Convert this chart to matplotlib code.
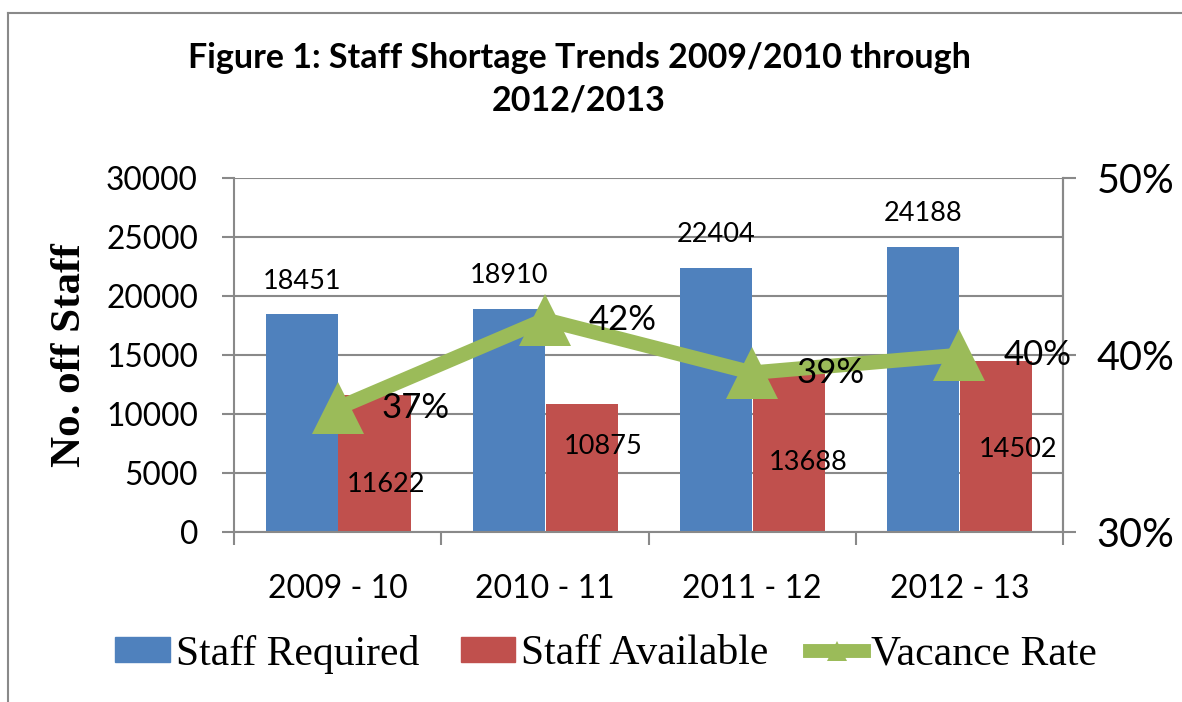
import matplotlib
matplotlib.use('Agg')
import matplotlib.pyplot as plt
from matplotlib.lines import Line2D
import matplotlib.patches as mpatches
import numpy as np

years     = ['2009 - 10', '2010 - 11', '2011 - 12', '2012 - 13']
required  = [18451, 18910, 22404, 24188]
available = [11622, 10875, 13688, 14502]
vac_rate  = [0.37, 0.42, 0.39, 0.40]

# where the red labels sit below the bar top (pixels), as in the source
red_dx = [12, 22, 20, 23]
red_dy = [-90, -43, -92, -89]

BLUE  = '#4F81BD'
RED   = '#C0504D'
GREEN = '#9BBB59'
GRID  = '#898989'

SANS  = ['Lato', 'DejaVu Sans']
SERIF = ['Liberation Serif', 'DejaVu Serif']

fig = plt.figure(figsize=(11.82, 7.02), dpi=100)
W, H = 1182, 702

ax = fig.add_axes([234 / W, 1 - 532 / H, (1063 - 234) / W, (532 - 178) / H])
ax2 = ax.twinx()

x = np.arange(len(years))
bw = 0.348
ax.bar(x - bw / 2, required, bw, color=BLUE, zorder=2, edgecolor='none')
ax.bar(x + bw / 2 + 0.004, available, bw, color=RED, zorder=2, edgecolor='none')

ax.set_ylim(0, 30000)
ax.set_xlim(-0.5, 3.5)
ax.set_yticks(range(0, 30001, 5000))
ax.yaxis.grid(True, color=GRID, lw=1.5, zorder=0)
ax.set_axisbelow(True)

# category boundary ticks, labels at centres
ax.set_xticks(np.arange(-0.5, 4, 1))
ax.set_xticklabels([])
ax.set_xticks(x, minor=True)
ax.set_xticklabels(years, minor=True, fontsize=23, family=SANS)
ax.tick_params(axis='x', which='minor', length=0, pad=30)
ax.tick_params(axis='x', which='major', length=9, width=1.5, color=GRID, direction='out')
ax.tick_params(axis='y', length=9, width=1.5, color=GRID, direction='out', pad=17, labelsize=22.8)
for lab in ax.get_yticklabels():
    lab.set_family(SANS)

for s in ['left', 'bottom', 'right']:
    ax.spines[s].set_color(GRID)
    ax.spines[s].set_linewidth(1.5)
ax.spines['top'].set_visible(False)
for s in ['left', 'top', 'bottom']:
    ax2.spines[s].set_visible(False)
ax2.spines['right'].set_color(GRID)
ax2.spines['right'].set_linewidth(1.5)

ax.set_ylabel('No. off Staff', fontsize=31, family=SERIF, fontweight='bold', labelpad=12)

# vacancy line on the right axis
ax2.plot(x, vac_rate, color=GREEN, lw=10.5, marker='^', ms=37, mec=GREEN, mew=0, zorder=3)
ax2.set_ylim(0.30, 0.50)
ax2.set_yticks([0.30, 0.40, 0.50])
ax2.set_yticklabels(['30%', '40%', '50%'], family=SANS)
ax2.tick_params(axis='y', length=9, width=1.5, color=GRID, direction='out', pad=15, labelsize=28.5)

# data labels
for i in range(len(years)):
    ax.annotate(str(required[i]), (x[i] - bw / 2, required[i]), xytext=(0, 33),
                textcoords='offset pixels', ha='center', va='center', fontsize=19.5, family=SANS)
    ax.annotate(str(available[i]), (x[i] + bw / 2, available[i]), xytext=(red_dx[i], red_dy[i]),
                textcoords='offset pixels', ha='center', va='center', fontsize=19.5, family=SANS)
    ax2.annotate(f'{vac_rate[i]:.0%}', (x[i], vac_rate[i]), xytext=(44, 0),
                 textcoords='offset pixels', ha='left', va='center', fontsize=25, family=SANS,
                 zorder=4)

# title
fig.text(579 / W, 1 - 58 / H, 'Figure 1: Staff Shortage Trends 2009/2010 through',
         ha='center', va='center', fontsize=24.5, fontweight='bold', family=SANS)
fig.text(579 / W, 1 - 100 / H, '2012/2013',
         ha='center', va='center', fontsize=24.5, fontweight='bold', family=SANS)

# legend
handles = [mpatches.Patch(color=BLUE, label='Staff Required'),
           mpatches.Patch(color=RED, label='Staff Available'),
           Line2D([], [], color=GREEN, lw=10, marker='^', ms=14, mew=0, label='Vacance Rate')]
fig.legend(handles=handles, loc='center', bbox_to_anchor=(606 / W, 1 - 654 / H), ncol=3,
           frameon=False, prop={'family': SERIF, 'size': 30}, handlelength=1.3,
           handleheight=0.55, handletextpad=0.15, columnspacing=1.0, borderaxespad=0)

# chart frame (left and top edges only visible)
fig.add_artist(Line2D([8 / W, 8 / W], [0, 1 - 13 / H], color=GRID, lw=1.5))
fig.add_artist(Line2D([8 / W, 1], [1 - 13 / H, 1 - 13 / H], color=GRID, lw=1.5))

fig.savefig('out.png', dpi=100)
